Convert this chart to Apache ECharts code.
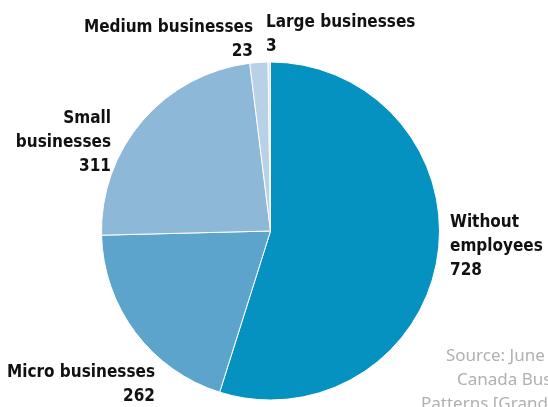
<!DOCTYPE html>
<html>
<head>
<meta charset="utf-8">
<script src="https://cdn.jsdelivr.net/npm/echarts@6/dist/echarts.min.js"></script>
<style>
html,body{margin:0;padding:0;background:#fff;}
#chart{width:548px;height:407px;}
</style>
</head>
<body>
<div id="chart"></div>
<script>
var categories = ['Without\nemployees', 'Micro businesses', 'Small\nbusinesses', 'Medium businesses', 'Large businesses'];
var values = [728, 262, 311, 23, 3];
var colors = ['#0592C0', '#5CA4CB', '#8DB8D7', '#B9D1E6', '#DCE7F2'];
var sourceLines = ['Source: June 2020', 'Canada Business', 'Patterns [Grand total]'];

// label anchor positions (layout only)
var labelPos = [
  {x: 450, y: 211, align: 'left'},
  {x: 155, y: 361, align: 'right'},
  {x: 111, y: 107, align: 'right'},
  {x: 253, y: 16, align: 'right'},
  {x: 266, y: 11, align: 'left'}
];

var chart = echarts.init(document.getElementById('chart'), null, {renderer: 'canvas'});
var data = categories.map(function (c, i) {
  return {name: c, value: values[i], itemStyle: {color: colors[i]}};
});
var option = {
  animation: false,
  backgroundColor: '#ffffff',
  series: [{
    type: 'pie',
    center: [270.5, 231],
    radius: [0, 169],
    startAngle: 90,
    clockwise: true,
    avoidLabelOverlap: false,
    data: data,
    itemStyle: {borderColor: '#ffffff', borderWidth: 1},
    label: {
      show: true,
      position: 'outside',
      formatter: '{b}\n{c}',
      color: '#111111',
      fontFamily: "'DejaVu Sans Condensed', 'DejaVu Sans', sans-serif",
      fontWeight: 'bold',
      fontSize: 17,
      lineHeight: 24
    },
    labelLine: {show: false},
    labelLayout: function (params) {
      var p = labelPos[params.dataIndex];
      return {x: p.x, y: p.y, align: p.align, verticalAlign: 'top'};
    },
    emphasis: {disabled: true}
  }],
  graphic: sourceLines.map(function (t, i) {
    var xs = [446, 457, 421];
    return {
      type: 'text',
      left: xs[i],
      top: 348 + i * 24,
      style: {
        text: t,
        fill: '#b0b0b0',
        font: '17px "Noto Sans"'
      }
    };
  })
};
chart.setOption(option);
</script>
</body>
</html>
